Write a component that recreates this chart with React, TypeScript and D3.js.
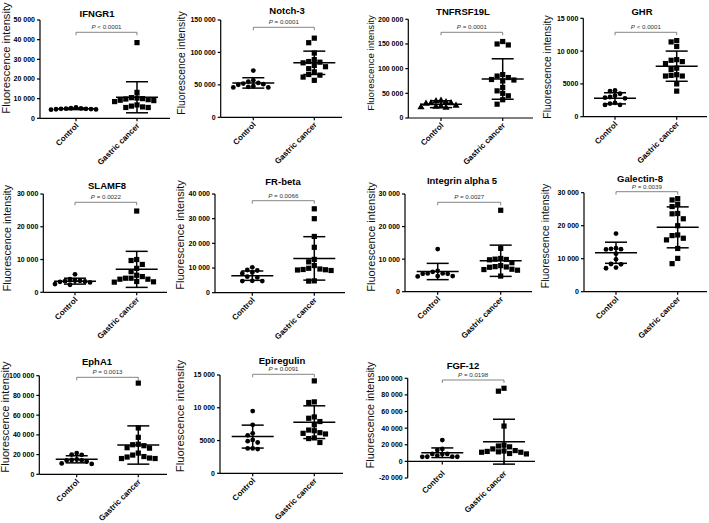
import React from "react";
import * as d3 from "d3";

// ---------- data ----------
const titles = ["IFNGR1", "Notch-3", "TNFRSF19L", "GHR", "SLAMF8", "FR-beta", "Integrin alpha 5", "Galectin-8", "EphA1", "Epiregulin", "FGF-12"];
const categories = ["Control", "Gastric cancer"];
const pPrefix = ["P", "P", "P", "P", "P", "P", "P", "P", "P", "P", "P"];
const pRest = [" < 0.0001", " = 0.0001", " = 0.0001", " < 0.0001", " = 0.0022", " = 0.0066", " = 0.0027", " = 0.0039", " = 0.0013", " = 0.0091", " = 0.0198"];
const yMin = [0, 0, 0, 0, 0, 0, 0, 0, 0, 0, -20000];
const yMax = [50000, 150000, 200000, 15000, 30000, 40000, 30000, 30000, 100000, 15000, 100000];
const yStep = [10000, 50000, 50000, 5000, 10000, 10000, 10000, 10000, 20000, 5000, 20000];
const controlShape = ["circle", "circle", "triangle", "circle", "circle", "circle", "circle", "circle", "circle", "circle", "circle"];

const controlValues = [
  [4900, 4700, 5000, 4600, 4800, 5500, 4500, 5100, 4400, 4800],
  [72000, 55000, 57000, 53000, 52000, 50000, 47000, 46000, 46000, 48000, 51000],
  [31000, 33000, 36000, 35000, 30000, 26000, 24000, 22000, 23000, 25000, 31000],
  [3900, 4000, 3500, 3200, 2900, 2800, 3000, 2000, 1800, 1800, 2100],
  [5500, 4000, 3600, 3400, 3300, 3500, 3200, 2500, 2300, 3000],
  [10300, 9200, 9000, 8200, 7800, 6500, 6200, 4800, 4700, 4700],
  [13100, 6400, 6100, 5600, 5500, 5500, 5600, 4800, 4700, 4800],
  [17600, 13000, 12800, 13200, 12900, 11500, 9800, 8300, 8400, 7100, 7300],
  [21500, 20000, 19800, 15000, 14500, 14200, 14000, 11000, 10500, 13000],
  [9500, 7400, 5800, 6100, 4900, 5100, 4700, 3800, 3700, 3800],
  [25700, 15000, 13600, 9000, 8800, 9000, 7000, 5600, 5500, 5600, 5700],
];
const cancerValues = [
  [38500, 13200, 10500, 10300, 10000, 9800, 9500, 9200, 8500, 6800, 6200, 5800, 5500, 5500, 9000],
  [122000, 115000, 99000, 89000, 86000, 85000, 84000, 80000, 78000, 75000, 70000, 66000, 65000, 62000, 57000],
  [155000, 148000, 150000, 88000, 85000, 82000, 78000, 77000, 75000, 62000, 55000, 50000, 45000, 37000, 28000],
  [11400, 11600, 10700, 8600, 8400, 8700, 8100, 7400, 7200, 6300, 6200, 6200, 6400, 5000, 3900],
  [24800, 10000, 9700, 8500, 7300, 6300, 5200, 4800, 4300, 4300, 4000, 3300, 3200, 3100, 4000],
  [34000, 30000, 22800, 18400, 13500, 12500, 11000, 9900, 9600, 9400, 9300, 9200, 4800, 4700, 9000],
  [25000, 13300, 10200, 10000, 9900, 9800, 8900, 7700, 7600, 6900, 6800, 6600, 8000, 4800, 7500],
  [27800, 28200, 26500, 25800, 23600, 23700, 22100, 20000, 17200, 17000, 16200, 15700, 13100, 10100, 8500],
  [92500, 47000, 37500, 30000, 29000, 27000, 26500, 30500, 21500, 18000, 16500, 16000, 16000, 19500, 17500],
  [14100, 10800, 10900, 8600, 8400, 7900, 7400, 6500, 6600, 6100, 6000, 6200, 4700, 5300, 5400],
  [88000, 84500, 42500, 19500, 18500, 17500, 12500, 11000, 12000, 11500, 11000, 15000, 13000, 9500, 9000],
];
const controlMean = [4830, 53000, 28000, 2800, 3400, 6900, 6200, 11800, 15200, 5600, 10400];
const controlSd = [400, 8000, 7000, 850, 900, 1900, 2500, 3200, 3600, 1750, 5800];
const cancerMean = [10700, 84000, 79000, 7700, 7000, 13900, 9500, 19500, 29700, 7800, 23700];
const cancerSd = [7900, 18000, 41000, 2300, 5500, 8800, 4800, 6200, 19400, 2500, 27000];

// ---------- layout ----------
const layout = [
  { ax: 40, x1: 170, yb: 118.3, yt: 20, cx: 76, gx: 137, tx: 97, ty: 16.5, lx: 6, ly: 58, ls: 11.2, by: 32.3, xl: 126.3 },
  { ax: 220.7, x1: 342, yb: 117.3, yt: 20, cx: 253.3, gx: 314.3, tx: 287, ty: 13.5, lx: 181.5, ly: 63, ls: 10.4, by: 27.3, xl: 125.3 },
  { ax: 408.3, x1: 533, yb: 118, yt: 19.3, cx: 441, gx: 502.7, tx: 463, ty: 15, lx: 370, ly: 63, ls: 9.6, by: 32.3, xl: 126 },
  { ax: 583.3, x1: 707, yb: 116.7, yt: 18.3, cx: 615, gx: 676.7, tx: 642, ty: 15, lx: 547, ly: 67, ls: 10.4, by: 32.3, xl: 124.7 },
  { ax: 43.3, x1: 167, yb: 292.3, yt: 194, cx: 75, gx: 136.7, tx: 107, ty: 188.5, lx: 7, ly: 238, ls: 10.7, by: 202.3, xl: 300.3 },
  { ax: 215, x1: 345, yb: 292.7, yt: 194, cx: 252.3, gx: 314.3, tx: 283, ty: 185, lx: 180, ly: 235, ls: 11, by: 200.7, xl: 300.7 },
  { ax: 405, x1: 532, yb: 291.7, yt: 194, cx: 437.7, gx: 500.7, tx: 462, ty: 184, lx: 370.5, ly: 237, ls: 11, by: 202.3, xl: 299.7 },
  { ax: 584, x1: 707, yb: 291.7, yt: 192.7, cx: 616, gx: 677.7, tx: 640, ty: 181.5, lx: 545, ly: 236, ls: 10.5, by: 191.7, xl: 299.7 },
  { ax: 39.3, x1: 167, yb: 474.3, yt: 375.7, cx: 76.7, gx: 138.3, tx: 97, ty: 365, lx: 5, ly: 417, ls: 11.2, by: 377.3, xl: 482.3 },
  { ax: 220, x1: 343, yb: 473.3, yt: 375, cx: 252.7, gx: 314.3, tx: 282, ty: 363.5, lx: 180, ly: 416, ls: 11.3, by: 374.3, xl: 481.3 },
  { ax: 407.7, x1: 535, yb: 478, yt: 378.3, cx: 442.3, gx: 504, tx: 463, ty: 368.5, lx: 370, ly: 415, ls: 10.7, by: 380, xl: 474 },
];

const FONT = "'Liberation Sans', Arial, Helvetica, sans-serif";

function fmt(v: number): string {
  if (Math.abs(v) >= 10000) return d3.format(",")(v).replace(/,/g, " ").replace("\u2212", "-");
  return String(v);
}

function swarm(vals: number[], y: (v: number) => number, d: number): number[] {
  const order = vals.map((v, i) => ({ v, i })).sort((a, b) => b.v - a.v);
  const placed: { x: number; y: number }[] = [];
  const xs: number[] = new Array(vals.length).fill(0);
  for (const { v, i } of order) {
    const py = y(v);
    for (let n = 0; n < 60; n++) {
      const k = Math.ceil(n / 2) * (n % 2 === 1 ? -1 : 1);
      const ox = k * d;
      const ok = placed.every((p) => Math.hypot(p.x - ox, p.y - py) >= d - 0.01);
      if (ok) {
        placed.push({ x: ox, y: py });
        xs[i] = ox;
        break;
      }
    }
  }
  return xs;
}

function Marker({ shape, x, y }: { shape: string; x: number; y: number }) {
  if (shape === "square") return <rect x={x - 2.6} y={y - 2.6} width={5.2} height={5.2} fill="#000" />;
  if (shape === "triangle")
    return <path d={d3.symbol(d3.symbolTriangle, 22)() || ""} transform={`translate(${x},${y + 0.5})`} fill="#000" />;
  return <circle cx={x} cy={y} r={2.4} fill="#000" />;
}

function Panel({ i }: { i: number }) {
  const L = layout[i];
  const y = d3.scaleLinear().domain([yMin[i], yMax[i]]).range([L.yb, L.yt]);
  const ticks = d3.range(yMin[i], yMax[i] + 1, yStep[i]);
  const xCat = d3.scalePoint<string>().domain(categories).range([L.cx, L.gx]);
  const y0 = y(0);
  const groups = [
    { vals: controlValues[i], mean: controlMean[i], sd: controlSd[i], shape: controlShape[i], x: xCat(categories[0])!, d: 5 },
    { vals: cancerValues[i], mean: cancerMean[i], sd: cancerSd[i], shape: "square", x: xCat(categories[1])!, d: 5.6 },
  ];
  const xa = xCat(categories[0])!;
  const xb = xCat(categories[1])!;
  return (
    <g>
      <text x={L.tx} y={L.ty} textAnchor="middle" fontSize={9.5} fontWeight="bold" fontFamily={FONT} fill="#000">
        {titles[i]}
      </text>
      <text
        transform={`translate(${L.lx},${L.ly}) rotate(-90)`}
        textAnchor="middle"
        dominantBaseline="central"
        fontSize={L.ls}
        fontFamily={FONT}
        fill="#111"
      >
        Fluorescence intensity
      </text>
      {/* y axis */}
      <line x1={L.ax} x2={L.ax} y1={L.yt} y2={L.yb} stroke="#000" strokeWidth={1.2} />
      {ticks.map((t) => (
        <g key={t}>
          <line x1={L.ax - 3} x2={L.ax} y1={y(t)} y2={y(t)} stroke="#000" strokeWidth={1.2} />
          <text x={L.ax - 5} y={y(t)} dy="0.35em" textAnchor="end" fontSize={7} fontWeight="bold" fontFamily={FONT} fill="#000">
            {fmt(t)}
          </text>
        </g>
      ))}
      {/* x axis */}
      <line x1={L.ax} x2={L.x1} y1={y0} y2={y0} stroke="#000" strokeWidth={1.2} />
      {categories.map((c) => (
        <g key={c}>
          <line x1={xCat(c)!} x2={xCat(c)!} y1={y0} y2={y0 + 3} stroke="#000" strokeWidth={1.2} />
          <text
            transform={`translate(${xCat(c)! + 3},${L.xl}) rotate(-45)`}
            textAnchor="end"
            fontSize={8}
            fontWeight="bold"
            fontFamily={FONT}
            fill="#000"
          >
            {c}
          </text>
        </g>
      ))}
      {/* bracket */}
      <path d={`M${xa},${L.by + 3}V${L.by}H${xb}V${L.by + 3}`} fill="none" stroke="#666" strokeWidth={0.8} />
      <text x={(xa + xb) / 2} y={L.by - 3} textAnchor="middle" fontSize={6.2} fontFamily={FONT} fill="#333">
        <tspan fontStyle="italic">{pPrefix[i]}</tspan>
        {pRest[i]}
      </text>
      {/* points + mean/sd */}
      {groups.map((g, gi) => {
        const offs = swarm(g.vals, y, g.d);
        return (
          <g key={gi}>
            {g.vals.map((v, k) => (
              <Marker key={k} shape={g.shape} x={g.x + offs[k]} y={y(v)} />
            ))}
            <line x1={g.x - 21} x2={g.x + 21} y1={y(g.mean)} y2={y(g.mean)} stroke="#000" strokeWidth={1.5} />
            <line x1={g.x} x2={g.x} y1={y(g.mean - g.sd)} y2={y(g.mean + g.sd)} stroke="#000" strokeWidth={1.5} />
            <line x1={g.x - 11} x2={g.x + 11} y1={y(g.mean + g.sd)} y2={y(g.mean + g.sd)} stroke="#000" strokeWidth={1.5} />
            <line x1={g.x - 11} x2={g.x + 11} y1={y(g.mean - g.sd)} y2={y(g.mean - g.sd)} stroke="#000" strokeWidth={1.5} />
          </g>
        );
      })}
    </g>
  );
}

export default function App() {
  return (
    <svg width={709} height={523} style={{ display: "block", position: "absolute", left: 0, top: 0, background: "#fff" }}>
      <rect width={709} height={523} fill="#fff" />
      {titles.map((_, i) => (
        <Panel key={i} i={i} />
      ))}
    </svg>
  );
}
